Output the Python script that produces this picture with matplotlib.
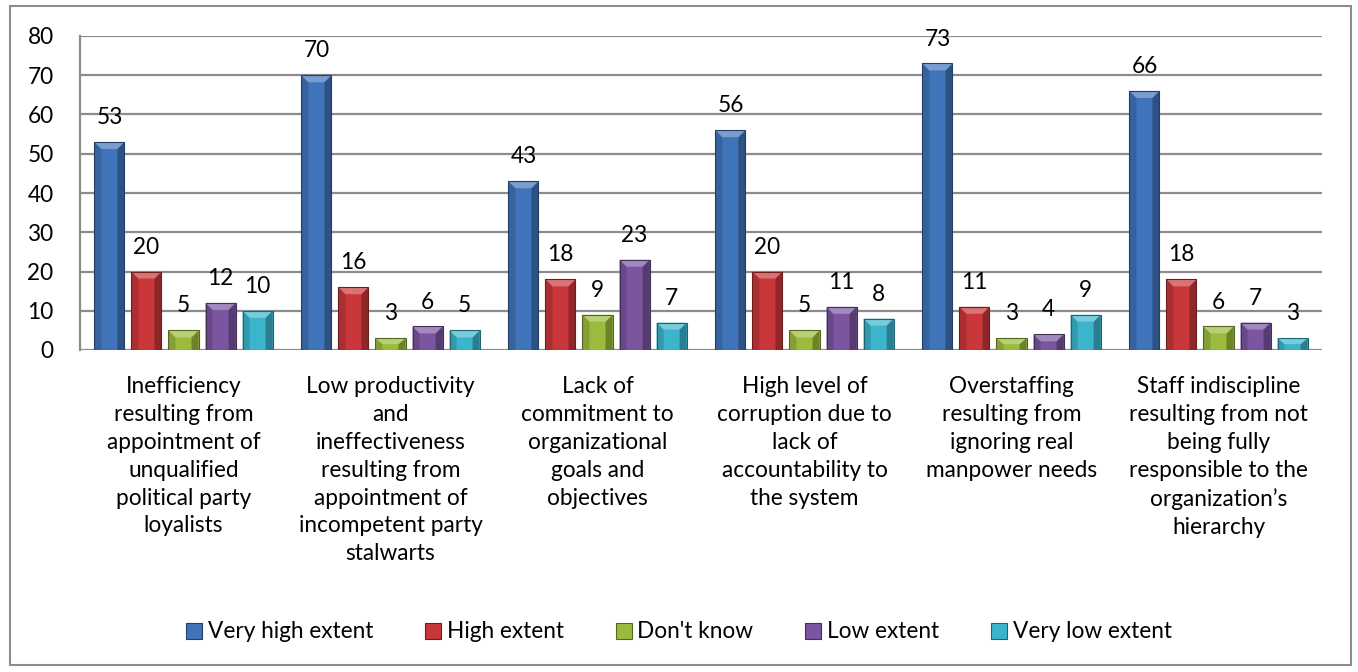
import numpy as np
import matplotlib
matplotlib.use("Agg")
import matplotlib.pyplot as plt
from matplotlib.patches import Polygon, Rectangle, Patch
import matplotlib.colors as mcolors

plt.rcParams['font.family'] = ['Lato', 'DejaVu Sans']

categories = [
    "Inefficiency\nresulting from\nappointment of\nunqualified\npolitical party\nloyalists",
    "Low productivity\nand\nineffectiveness\nresulting from\nappointment of\nincompetent party\nstalwarts",
    "Lack of\ncommitment to\norganizational\ngoals and\nobjectives",
    "High level of\ncorruption due to\nlack of\naccountability to\nthe system",
    "Overstaffing\nresulting from\nignoring real\nmanpower needs",
    "Staff indiscipline\nresulting from not\nbeing fully\nresponsible to the\norganization\u2019s\nhierarchy",
]
series_names = ["Very high extent", "High extent", "Don't know", "Low extent", "Very low extent"]
very_high = [53, 70, 43, 56, 73, 66]
high = [20, 16, 18, 20, 11, 18]
dont_know = [5, 3, 9, 5, 3, 6]
low = [12, 6, 23, 11, 4, 7]
very_low = [10, 5, 7, 8, 9, 3]
series = [very_high, high, dont_know, low, very_low]
colors = ["#3F73BA", "#C9373A", "#9BBB3C", "#7A55A0", "#3CB4CC"]

FS = 16.3
W, H = 1358, 672
fig = plt.figure(figsize=(W / 100, H / 100), dpi=100)
ax = fig.add_axes([80 / W, 1 - 350 / H, (1322 - 80) / W, (350 - 36) / H])

ax.set_xlim(-0.5, len(categories) - 0.5)
ax.set_ylim(0, 80)
ax.set_yticks(range(0, 81, 10))
ax.yaxis.grid(True, color="#8C8C8C", lw=1.6)
ax.set_axisbelow(True)
for side in ["top", "right", "bottom"]:
    ax.spines[side].set_visible(False)
ax.spines["left"].set_color("#8C8C8C")
ax.spines["left"].set_linewidth(1.6)
ax.tick_params(axis="y", length=0, labelsize=FS, pad=19)
ax.tick_params(axis="x", length=0, labelsize=FS, pad=19)
ax.set_xticks(range(len(categories)))
ax.set_xticklabels(categories, linespacing=1.4, va="top")

step = 0.179
width = 0.145
x = np.arange(len(categories))

# bevel size in data units (approx 7 px)
dx = 7 / ((1322 - 80) / 6.0)
dy_px = 7 * 80 / (350 - 36)


def shade(c, f):
    r, g, b = mcolors.to_rgb(c)
    if f > 1:
        return (r + (1 - r) * (f - 1), g + (1 - g) * (f - 1), b + (1 - b) * (f - 1))
    return (r * f, g * f, b * f)


def bevel_bar(x0, h, color):
    x1 = x0 + width
    dy = min(dy_px, h / 2)
    ax.add_patch(Rectangle((x0, 0), width, h, facecolor=color, edgecolor="none", zorder=3))
    ax.add_patch(Polygon([(x0, 0), (x0, h), (x0 + dx, h - dy), (x0 + dx, 0)],
                         facecolor=shade(color, 0.85), edgecolor="none", zorder=3))
    ax.add_patch(Polygon([(x1, 0), (x1, h), (x1 - dx, h - dy), (x1 - dx, 0)],
                         facecolor=shade(color, 0.7), edgecolor="none", zorder=3))
    ax.add_patch(Polygon([(x0, h), (x1, h), (x1 - dx, h - dy), (x0 + dx, h - dy)],
                         facecolor=shade(color, 1.3), edgecolor="none", zorder=3))
    ax.add_patch(Rectangle((x0, 0), width, h, facecolor="none",
                           edgecolor=shade(color, 0.55), lw=0.8, zorder=4))


for i, (vals, col) in enumerate(zip(series, colors)):
    offs = (i - 2) * step
    for xi, v in zip(x, vals):
        bevel_bar(xi + offs - width / 2, v, col)
        ax.annotate(str(v), (xi + offs, v), xytext=(0, 10), textcoords="offset points",
                    ha="center", va="bottom", fontsize=FS, zorder=5)

handles = [Patch(facecolor=c, edgecolor=shade(c, 0.55), lw=0.8) for c in colors]
fig.legend(handles, series_names, loc="center", bbox_to_anchor=(0.5, 1 - 632 / H),
           ncol=5, frameon=False, fontsize=FS, handlelength=0.7, handleheight=0.7,
           handletextpad=0.25, columnspacing=2.3)

fig.patches.append(Rectangle((10 / W, 1 - 665 / H), (1351 - 10) / W, (665 - 6) / H,
                             transform=fig.transFigure, facecolor="none",
                             edgecolor="#8C8C8C", lw=1.5))

fig.savefig("out.png", dpi=100)
